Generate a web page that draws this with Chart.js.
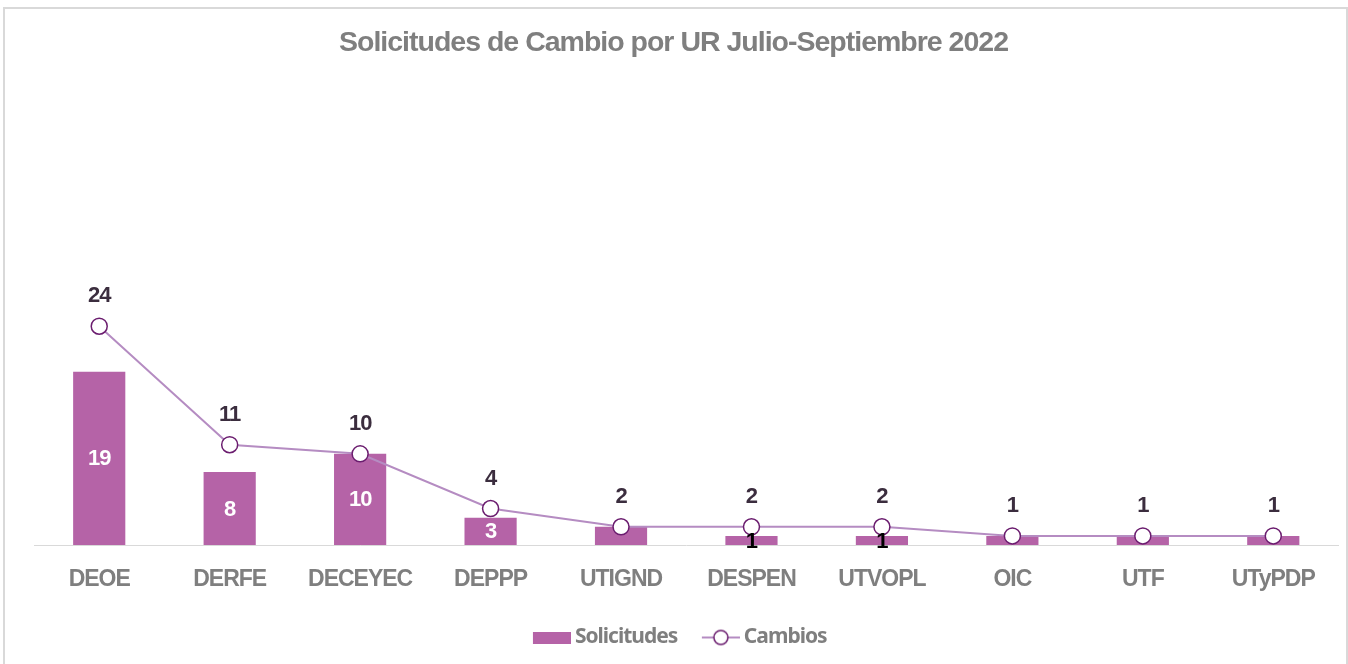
<!DOCTYPE html>
<html>
<head>
<meta charset="utf-8">
<script src="https://cdn.jsdelivr.net/npm/chart.js@4.4.0/dist/chart.umd.min.js"></script>
<style>
  html, body { margin: 0; padding: 0; background: #fff; }
  #frame { position: absolute; left: 3px; top: 7px; width: 1341px; height: 700px; border: 2px solid #d9d9d9; }
  #wrap { position: absolute; left: 0; top: 0; width: 1348px; height: 664px; }
</style>
</head>
<body>
<div id="frame"></div>
<div id="wrap"><canvas id="urChart" width="1348" height="664"></canvas></div>
<script>
var categories = ["DEOE", "DERFE", "DECEYEC", "DEPPP", "UTIGND", "DESPEN", "UTVOPL", "OIC", "UTF", "UTyPDP"];
var solicitudes = [19, 8, 10, 3, 2, 1, 1, 1, 1, 1];
var cambios = [24, 11, 10, 4, 2, 2, 2, 1, 1, 1];

var barColor = "#b563a7";
var lineColor = "#b58cc2";
var pointEdge = "#6b1d6f";

// legend swatches (drawn on the right part of a wider canvas so text sits close)
var barSwatch = document.createElement("canvas");
barSwatch.width = 57;
barSwatch.height = 12;
var c1 = barSwatch.getContext("2d");
c1.fillStyle = barColor;
c1.fillRect(19, 0, 38, 12);

var lineSwatch = document.createElement("canvas");
lineSwatch.width = 57;
lineSwatch.height = 18;
var c2 = lineSwatch.getContext("2d");
c2.strokeStyle = lineColor;
c2.lineWidth = 2;
c2.beginPath();
c2.moveTo(19, 9);
c2.lineTo(57, 9);
c2.stroke();
c2.beginPath();
c2.arc(38, 9, 7, 0, Math.PI * 2);
c2.fillStyle = "#fff";
c2.fill();
c2.strokeStyle = pointEdge;
c2.lineWidth = 1.5;
c2.stroke();

var tightText = {
  id: "tightText",
  beforeUpdate: function (chart) { chart.ctx.letterSpacing = "-1px"; },
  beforeDraw: function (chart) { chart.ctx.letterSpacing = "-1px"; }
};

var valueLabels = {
  id: "valueLabels",
  afterDatasetsDraw: function (chart, args, opts) {
    var ctx = chart.ctx;
    ctx.save();
    ctx.font = 'bold 22px "Liberation Sans", Arial, sans-serif';
    ctx.textAlign = "center";
    ctx.textBaseline = "middle";
    chart.getDatasetMeta(0).data.forEach(function (bar, i) {
      var color = opts.barColors[i];
      if (!color) return;
      ctx.fillStyle = color;
      ctx.fillText(solicitudes[i], bar.x, (bar.y + bar.base) / 2 + 1);
    });
    ctx.fillStyle = "#3b2d3e";
    chart.getDatasetMeta(1).data.forEach(function (pt, i) {
      ctx.fillText(cambios[i], pt.x, pt.y - 30);
    });
    ctx.restore();
  }
};

var ctx = document.getElementById("urChart").getContext("2d");

var myChart = new Chart(ctx, {
  type: "bar",
  data: {
    labels: categories,
    datasets: [{
        label: "Solicitudes",
        data: solicitudes,
        backgroundColor: barColor,
        borderWidth: 0,
        categoryPercentage: 0.4,
        barPercentage: 1,
        order: 2
      },
      {
        type: "line",
        label: "Cambios",
        data: cambios,
        borderColor: lineColor,
        borderWidth: 2,
        tension: 0,
        pointRadius: 8,
        pointHoverRadius: 8,
        pointBackgroundColor: "#fff",
        pointBorderColor: pointEdge,
        pointBorderWidth: 1.5,
        order: 1
      }
    ]
  },
  options: {
    responsive: false,
    animation: false,
    layout: {
      padding: { left: 0, right: 1, bottom: 6 }
    },
    scales: {
      x: {
        grid: { display: false, drawTicks: false },
        border: { display: true, color: "#d9d9d9", width: 1 },
        ticks: {
          color: "#7f7f7f",
          padding: 23.5,
          font: { family: '"Liberation Sans", Arial, sans-serif', size: 23, weight: "bold", lineHeight: 1 }
        }
      },
      y: {
        display: true,
        min: 0,
        max: 50,
        ticks: { display: false },
        grid: { display: false, drawTicks: false },
        border: { display: false },
        afterFit: function (scale) { scale.width = 34; }
      }
    },
    plugins: {
      tooltip: { enabled: false },
      title: {
        display: true,
        text: "Solicitudes de Cambio por UR Julio-Septiembre 2022",
        color: "#7f7f7f",
        padding: { top: 26, bottom: 29 },
        font: { family: '"Liberation Sans", Arial, sans-serif', size: 28.5, weight: "bold" }
      },
      legend: {
        display: true,
        position: "bottom",
        labels: {
          usePointStyle: true,
          pointStyleWidth: 44,
          padding: 12,
          color: "#7f7f7f",
          font: { family: '"Noto Sans", sans-serif', size: 21, weight: "bold", lineHeight: 1 },
          generateLabels: function (chart) {
            var items = Chart.defaults.plugins.legend.labels.generateLabels(chart);
            items.forEach(function (item) {
              item.pointStyle = item.datasetIndex === 0 ? barSwatch : lineSwatch;
            });
            items.sort(function (a, b) { return a.datasetIndex - b.datasetIndex; });
            return items;
          }
        }
      },
      valueLabels: {
        barColors: ["#fff", "#fff", "#fff", "#fff", null, "#000", "#000", null, null, null]
      }
    }
  },
  plugins: [tightText, valueLabels]
});
</script>
</body>
</html>
